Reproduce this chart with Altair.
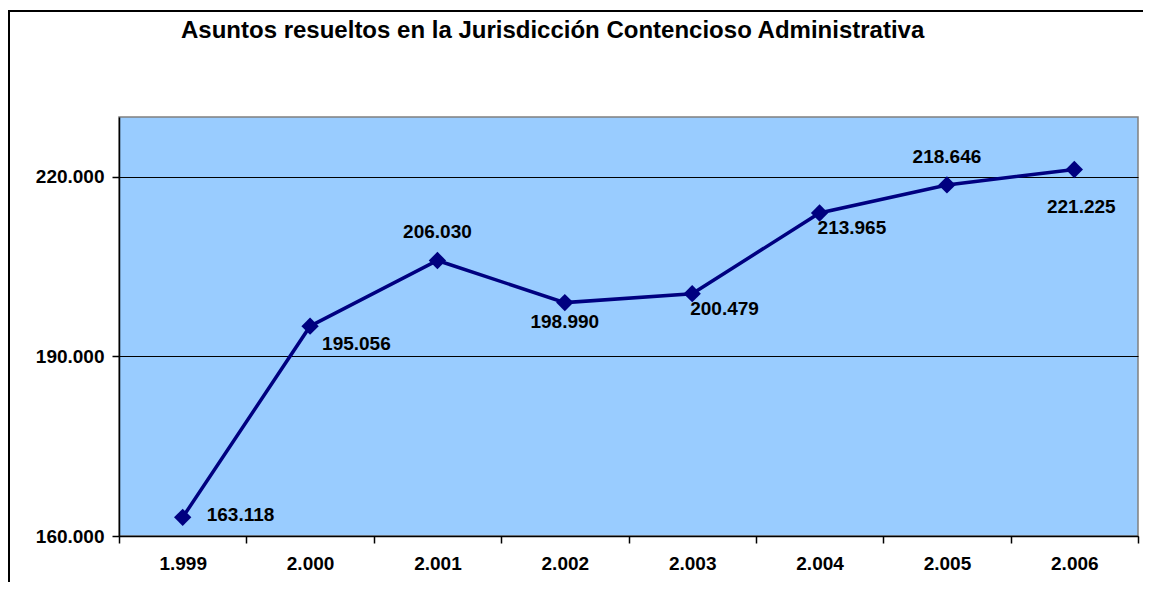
import altair as alt
import pandas as pd

years = ["1.999", "2.000", "2.001", "2.002", "2.003", "2.004", "2.005", "2.006"]
values = [163118, 195056, 206030, 198990, 200479, 213965, 218646, 221225]
labels = ["163.118", "195.056", "206.030", "198.990", "200.479", "213.965", "218.646", "221.225"]
placement = ["right", "below_right", "above", "below", "below_near", "below_near", "above", "below_far"]
y_ticks = [160000, 190000, 220000]

df = pd.DataFrame({"year": years, "value": values, "label": labels, "place": placement})

FONT = "Liberation Sans"
NAVY = "#000080"

x_enc = alt.X("year:N", sort=years, title=None,
              scale=alt.Scale(paddingInner=0, paddingOuter=0),
              axis=alt.Axis(tickBand="extent", labelAngle=0, labelFont=FONT,
                            labelFontSize=19, labelFontWeight="bold", labelColor="black",
                            tickColor="black", tickSize=7, tickWidth=1.5,
                            domainColor="black", domainWidth=1.5, labelPadding=11,
                            grid=False))
y_enc = alt.Y("value:Q", title=None,
              scale=alt.Scale(domain=[160000, 230000], nice=False, zero=False),
              axis=alt.Axis(values=y_ticks, grid=True, gridColor="black", gridWidth=1,
                            labelFont=FONT, labelFontSize=19, labelFontWeight="bold",
                            labelColor="black", tickColor="black", tickSize=7, tickWidth=1.5,
                            domainColor="black", domainWidth=1.5, labelPadding=8,
                            labelExpr="replace(format(datum.value, ','), ',', '.')"))

base = alt.Chart(df)

line = base.mark_line(color=NAVY, strokeWidth=3.5).encode(x=x_enc, y=y_enc)
pts = base.mark_point(shape="diamond", filled=True, color=NAVY, size=300, opacity=1).encode(
    x=alt.X("year:N", sort=years), y="value:Q")

place_styles = {
    "right": dict(align="left", dx=24, dy=-2),
    "below_right": dict(align="left", dx=12, dy=18),
    "above": dict(align="center", dx=0, dy=-28),
    "below": dict(align="center", dx=0, dy=19),
    "below_near": dict(align="left", dx=-2, dy=15),
    "below_far": dict(align="center", dx=7, dy=37),
}
texts = []
for name, st in place_styles.items():
    texts.append(
        base.transform_filter(alt.datum.place == name).mark_text(
            font=FONT, fontSize=19, fontWeight="bold", color="black",
            baseline="middle", **st).encode(
            x=alt.X("year:N", sort=years), y="value:Q", text="label:N"))

frame_left = alt.Chart(df).mark_rule(color="black", strokeWidth=2).encode(
    x=alt.value(-110), y=alt.value(-106), y2=alt.value(600))
frame_top = alt.Chart(df).mark_rule(color="black", strokeWidth=2).encode(
    x=alt.value(-111), x2=alt.value(1100), y=alt.value(-106))

chart = alt.layer(frame_left, frame_top, line, pts, *texts).properties(
    width=1019, height=419,
    title=alt.TitleParams("Asuntos resueltos en la Jurisdicción Contencioso Administrativa",
                          anchor="start", frame="group", dx=62, offset=0, dy=52,
                          baseline="alphabetic", font=FONT, fontSize=24,
                          fontWeight="bold", color="black"),
    autosize=alt.AutoSizeParams(type="none"),
    padding={"left": 111, "top": 109, "right": 5, "bottom": 46},
    background="white",
).configure_view(fill="#99CCFF", stroke="#808080", strokeWidth=1.5)

chart.save("out.html", embed_options={"renderer": "svg", "actions": False})
